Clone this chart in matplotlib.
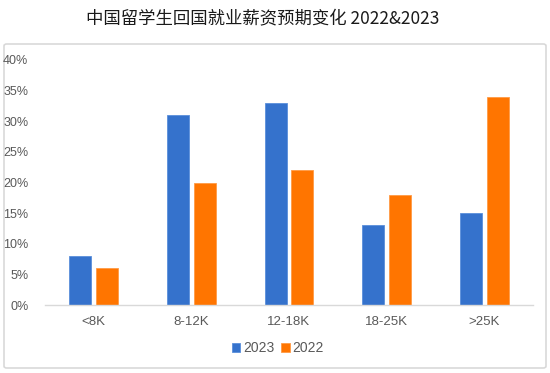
import matplotlib
matplotlib.use("Agg")
import matplotlib.pyplot as plt
from matplotlib.patches import FancyBboxPatch
import numpy as np

plt.rcParams['font.family'] = ['Noto Sans CJK SC', 'DejaVu Sans']

categories = ["<8K", "8-12K", "12-18K", "18-25K", ">25K"]
series_2023 = [8, 31, 33, 13, 15]
series_2022 = [6, 20, 22, 18, 34]
yticks = [0, 5, 10, 15, 20, 25, 30, 35, 40]

title = "中国留学生回国就业薪资预期变化 2022&2023"

fig = plt.figure(figsize=(5.5, 3.73), dpi=100)
W, H = 550, 373

# outer border
border = FancyBboxPatch((4 / W, 5 / H), 542 / W, 324 / H,
                        boxstyle="round,pad=0,rounding_size=0.005",
                        transform=fig.transFigure, facecolor="none",
                        edgecolor="#D9D9D9", linewidth=1.2, zorder=-1)
fig.patches.append(border)

ax = fig.add_axes([45 / W, (373 - 305) / H, (533 - 45) / W, (305 - 60) / H])
ax.set_facecolor("none")

x = np.arange(len(categories))
bw = 0.225
gap = 0.05
ax.bar(x - (bw + gap) / 2, series_2023, width=bw, color="#3572CC", label="2023",
       edgecolor="#5A8FDB", linewidth=0.6)
ax.bar(x + (bw + gap) / 2, series_2022, width=bw, color="#FF7500", label="2022",
       edgecolor="#FF9A45", linewidth=0.6)

ax.set_xlim(-0.5, len(categories) - 0.5)
ax.set_ylim(0, 40)
ax.set_yticks(yticks)
ax.set_yticklabels([f"{v}%" for v in yticks], color="#595959", fontsize=9,
                   family=["Liberation Sans", "DejaVu Sans"])
ax.set_xticks(x)
ax.set_xticklabels(categories, color="#595959", fontsize=9.5,
                   family=["Liberation Sans", "DejaVu Sans"])
ax.tick_params(axis="both", length=0)
ax.tick_params(axis="y", pad=12)
ax.tick_params(axis="x", pad=8)
for s in ["top", "right", "left"]:
    ax.spines[s].set_visible(False)
ax.spines["bottom"].set_color("#D9D9D9")
ax.spines["bottom"].set_linewidth(1.0)

fig.text(263 / W, 1 - 18 / H, title, ha="center", va="center", fontsize=12.5,
         color="#1a1a1a")

leg = fig.legend(loc="center", bbox_to_anchor=(278 / W, 1 - 348 / H), ncol=2,
                 frameon=False, handlelength=0.6, handleheight=0.6,
                 handletextpad=0.2, columnspacing=0.5,
                 prop={"family": ["Liberation Sans", "DejaVu Sans"], "size": 10})
for t in leg.get_texts():
    t.set_color("#595959")

fig.savefig("out.png", dpi=100)
